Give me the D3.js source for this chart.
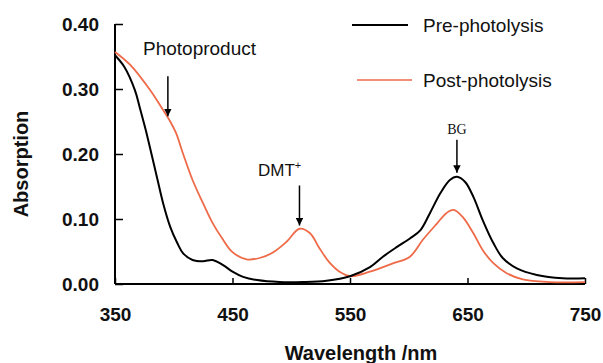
<!DOCTYPE html>
<html>
<head>
<meta charset="utf-8">
<script src="https://cdn.jsdelivr.net/npm/d3@7"></script>
<style>
  body { margin: 0; background: #fff; }
  text { font-family: "Liberation Sans", Arial, sans-serif; }
</style>
</head>
<body>
<div id="chart"></div>
<script>
// wavelengths (nm) and absorption
const preWl  = [350, 358, 367, 371, 376, 380, 386, 391, 397, 403, 408, 416, 425, 433, 442, 450, 459, 471, 490, 510, 530, 550, 567, 578, 590, 601, 610, 618, 627, 635, 641, 648, 655, 663, 672, 680, 692, 709, 731, 750];
const preAbs = [0.352, 0.334, 0.298, 0.272, 0.238, 0.208, 0.162, 0.124, 0.088, 0.063, 0.047, 0.037, 0.035, 0.037, 0.029, 0.019, 0.011, 0.006, 0.003, 0.003, 0.005, 0.012, 0.026, 0.042, 0.057, 0.07, 0.083, 0.109, 0.14, 0.16, 0.165, 0.157, 0.134, 0.098, 0.063, 0.04, 0.024, 0.014, 0.009, 0.009];

const postWl  = [350, 363, 380, 388, 397, 402, 408, 416, 425, 433, 442, 450, 462, 473, 484, 496, 507, 516, 524, 533, 541, 550, 567, 587, 601, 612, 624, 632, 638, 646, 655, 663, 672, 683, 697, 720, 750];
const postAbs = [0.357, 0.337, 0.298, 0.276, 0.25, 0.232, 0.2, 0.16, 0.124, 0.094, 0.068, 0.049, 0.038, 0.04, 0.048, 0.065, 0.085, 0.078, 0.055, 0.032, 0.019, 0.012, 0.019, 0.032, 0.042, 0.068, 0.093, 0.109, 0.114, 0.103, 0.078, 0.052, 0.032, 0.017, 0.007, 0.003, 0.003];

const xTicks = [350, 450, 550, 650, 750];
const yTicks = [0, 0.1, 0.2, 0.3, 0.4];
const seriesNames = ["Pre-photolysis", "Post-photolysis"];
const seriesColors = ["#000000", "#ee6a48"];

// annotations: label, wavelength of arrow, absorption of arrow tip
const notes = [
  { label: "Photoproduct", wl: 395, tip: 0.258 },
  { label: "DMT", wl: 507, tip: 0.09 },
  { label: "BG", wl: 641, tip: 0.171 }
];

const W = 603, H = 363;
const margin = { top: 24, right: 18, bottom: 79, left: 115 };

const svg = d3.select("#chart").append("svg")
  .attr("width", W).attr("height", H);

const x = d3.scaleLinear().domain([350, 750]).range([margin.left, W - margin.right]);
const y = d3.scaleLinear().domain([0, 0.4]).range([H - margin.bottom, margin.top]);

// axes
const xAxis = svg.append("g")
  .attr("transform", `translate(0,${y(0)})`)
  .call(d3.axisBottom(x).tickValues(xTicks).tickSize(-6).tickPadding(24).tickFormat(d3.format("d")));
const yAxis = svg.append("g")
  .attr("transform", `translate(${x(350)},0)`)
  .call(d3.axisLeft(y).tickValues(yTicks).tickSize(-8).tickPadding(16).tickFormat(d3.format(".2f")));

[xAxis, yAxis].forEach(g => {
  g.select(".domain").attr("stroke", "#000").attr("stroke-width", 2);
  g.selectAll(".tick line").attr("stroke", "#000").attr("stroke-width", 1.5);
  g.selectAll(".tick text")
    .attr("fill", "#111")
    .style("font-size", "19px")
    .style("font-weight", "bold")
    .style("font-family", "'Liberation Sans', Arial, sans-serif");
});
xAxis.select(".domain").attr("d", `M${x(350)},0H${x(750)}`);
yAxis.select(".domain").attr("d", `M0,${y(0)}V${y(0.4)}`);

// axis titles (the x title sits at the very bottom edge, as in the original)
svg.append("text")
  .attr("x", 361).attr("y", 360)
  .attr("text-anchor", "middle")
  .style("font-size", "20px").style("font-weight", "bold")
  .attr("fill", "#111")
  .text("Wavelength /nm");
svg.append("text")
  .attr("transform", `translate(28,${164}) rotate(-90)`)
  .attr("text-anchor", "middle")
  .style("font-size", "20px").style("font-weight", "bold")
  .attr("fill", "#111")
  .text("Absorption");

// curves
const line = d3.line()
  .x(d => x(d[0]))
  .y(d => y(d[1]))
  .curve(d3.curveCatmullRom.alpha(0.5));

svg.append("path")
  .datum(d3.zip(postWl, postAbs))
  .attr("d", line)
  .attr("fill", "none")
  .attr("stroke", seriesColors[1])
  .attr("stroke-width", 1.8);
svg.append("path")
  .datum(d3.zip(preWl, preAbs))
  .attr("d", line)
  .attr("fill", "none")
  .attr("stroke", seriesColors[0])
  .attr("stroke-width", 2);

// legend
const legend = svg.append("g");
seriesNames.forEach((name, i) => {
  const ly = 25 + i * 55;
  legend.append("line")
    .attr("x1", 352 + i * 5).attr("x2", 408 + i * 4)
    .attr("y1", ly).attr("y2", ly)
    .attr("stroke", seriesColors[i]).attr("stroke-width", i ? 1.5 : 2);
  legend.append("text")
    .attr("x", 423).attr("y", ly)
    .attr("dy", "0.35em")
    .style("font-size", "19px")
    .attr("fill", "#111")
    .text(name);
});

// arrows
svg.append("defs").append("marker")
  .attr("id", "head")
  .attr("viewBox", "0 0 10 10")
  .attr("refX", 10).attr("refY", 5)
  .attr("markerWidth", 5).attr("markerHeight", 5)
  .attr("orient", "auto")
  .append("path").attr("d", "M0,0L10,5L0,10Z").attr("fill", "#000");

const arrowLen = [40, 40, 33];
notes.forEach((n, i) => {
  const ax = x(n.wl), ty = y(n.tip);
  svg.append("line")
    .attr("x1", ax).attr("x2", ax)
    .attr("y1", ty - arrowLen[i]).attr("y2", ty)
    .attr("stroke", "#000").attr("stroke-width", 1.5)
    .attr("marker-end", "url(#head)");
});

svg.append("text")
  .attr("x", 143).attr("y", 48).attr("dy", "0.35em")
  .style("font-size", "19px").attr("fill", "#111")
  .text(notes[0].label);
const dmt = svg.append("text")
  .attr("x", 258).attr("y", 170).attr("dy", "0.35em")
  .style("font-size", "17px").attr("fill", "#111")
  .text(notes[1].label);
dmt.append("tspan").attr("dy", "-7").style("font-size", "11px").text("+");
svg.append("text")
  .attr("x", x(notes[2].wl)).attr("y", 129).attr("dy", "0.35em")
  .attr("text-anchor", "middle")
  .style("font-family", "'Liberation Serif', 'Times New Roman', serif")
  .style("font-size", "14px").attr("fill", "#111")
  .text(notes[2].label);
</script>
</body>
</html>
